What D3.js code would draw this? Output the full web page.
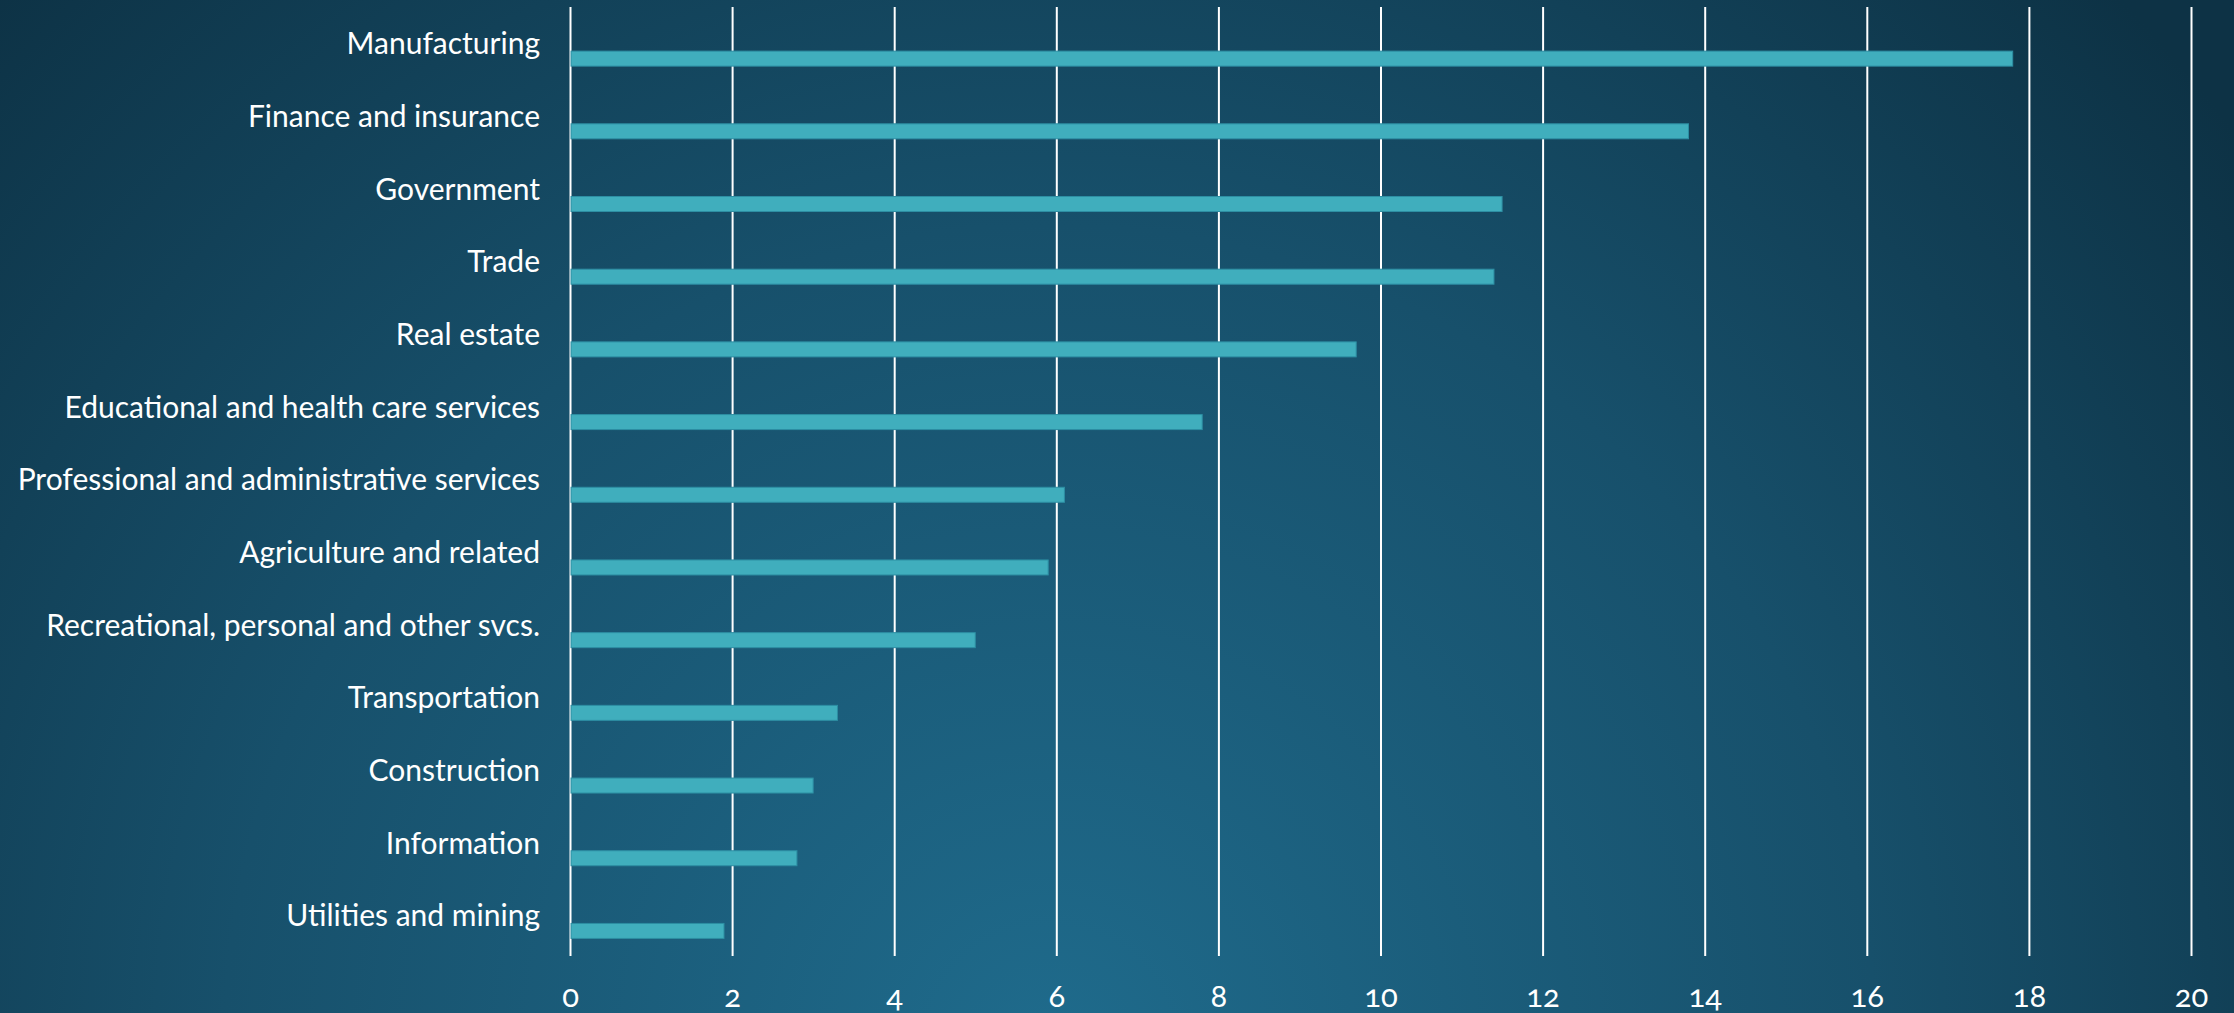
<!DOCTYPE html>
<html><head><meta charset="utf-8">
<script src="https://cdn.jsdelivr.net/npm/d3@7"></script>
<style>html,body{margin:0;padding:0;background:#133f56;overflow:hidden}</style>
</head><body>
<svg id="chart" width="2234" height="1013"></svg>
<script>
const categories = ["Manufacturing","Finance and insurance","Government","Trade","Real estate","Educational and health care services","Professional and administrative services","Agriculture and related","Recreational, personal and other svcs.","Transportation","Construction","Information","Utilities and mining"];
const values = [17.8,13.8,11.5,11.4,9.7,7.8,6.1,5.9,5.0,3.3,3.0,2.8,1.9];
const xTicks = [0,2,4,6,8,10,12,14,16,18,20];

const W=2234,H=1013;
const svg=d3.select("#chart");
const defs=svg.append("defs");
const rg=defs.append("radialGradient").attr("id","bg").attr("gradientUnits","userSpaceOnUse")
  .attr("cx",1050).attr("cy",1050).attr("r",1500);
rg.append("stop").attr("offset","0").attr("stop-color","#1f6b8c");
rg.append("stop").attr("offset","0.55").attr("stop-color","#17506b");
rg.append("stop").attr("offset","1").attr("stop-color","#0d3245");
svg.append("rect").attr("width",W).attr("height",H).attr("fill","url(#bg)");

const x=d3.scaleLinear().domain([0,20]).range([570,2191]);
const y=d3.scaleBand().domain(categories).range([7,952]);

const font="Lato, 'Open Sans', sans-serif";
// grid
svg.append("g").selectAll("line").data(xTicks).join("line")
  .attr("x1",d=>x(d)+0.5).attr("x2",d=>x(d)+0.5).attr("y1",7).attr("y2",956)
  .attr("stroke","#ffffff").attr("stroke-width",2);

// bars
const bh=15;
svg.append("g").selectAll("rect").data(values).join("rect")
  .attr("x",x(0)+1).attr("y",(d,i)=>y(categories[i])+y.bandwidth()*0.6+0.5)
  .attr("width",d=>x(d)-x(0)-1).attr("height",bh)
  .attr("fill","#40aebd").attr("stroke","#2d8ea3").attr("stroke-width",1);

// x axis labels
const xa=svg.append("g").attr("transform","translate(0,952)")
  .call(d3.axisBottom(x).tickValues(xTicks).tickSize(0).tickPadding(36));
xa.select(".domain").remove();
xa.selectAll("text").attr("fill","#fff").style("font-family",font).style("font-size","31px")
  .style("font-variant-numeric","oldstyle-nums").attr("dy","0.6em");

// y labels
const ya=svg.append("g").attr("transform","translate(540,0)")
  .call(d3.axisLeft(y).tickSize(0).tickPadding(0));
ya.select(".domain").remove();
ya.selectAll("text").attr("fill","#fff").style("font-family",font).style("font-size","30px").attr("dy","0.36em");
</script>
</body></html>
